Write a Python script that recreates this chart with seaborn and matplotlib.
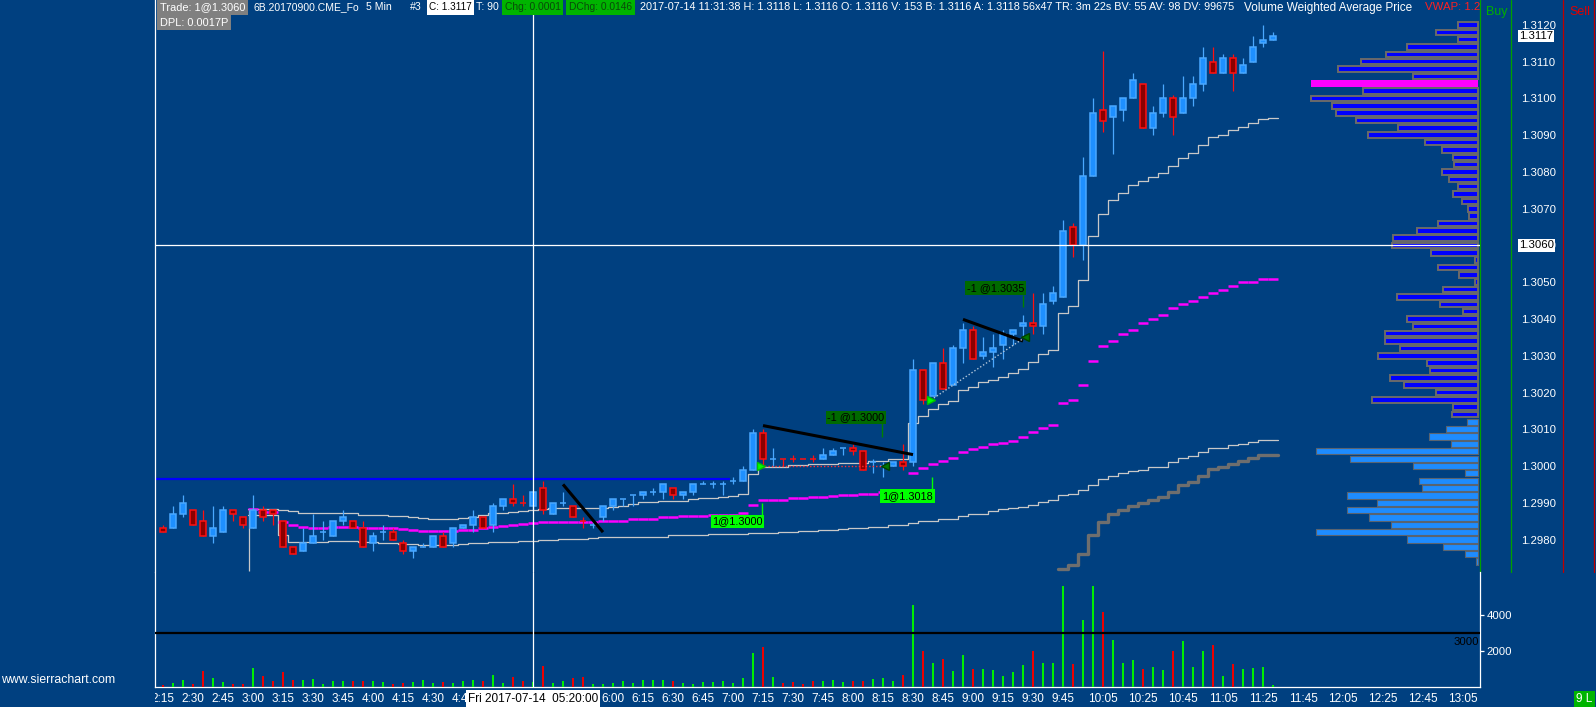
import numpy as np
import seaborn as sns
import matplotlib
matplotlib.use("Agg")
import matplotlib.pyplot as plt
from matplotlib.lines import Line2D
from matplotlib.transforms import Bbox

# ---------------- data ----------------
# 5 min bars, index 0 = 2:15
opens = [1.2983, 1.2983, 1.2987, 1.2988, 1.2985, 1.2981, 1.2982, 1.2988, 1.2986, 1.2983,
         1.2988, 1.2988, 1.2985, 1.2978, 1.2977, 1.2979, 1.2982, 1.2981, 1.2985, 1.2985,
         1.2983, 1.2979, 1.2982, 1.2982, 1.2979, 1.2977, 1.2978, 1.2978, 1.2981, 1.2979,
         1.2983, 1.2984, 1.2986, 1.2984, 1.2989, 1.2991, 1.2990, 1.2989, 1.2994, 1.2987,
         1.2990, 1.2989, 1.2985, 1.2984, 1.2986, 1.2989, 1.2991, 1.2992, 1.2992, 1.2993,
         1.2993, 1.2994, 1.2992, 1.2993, 1.2995, 1.2995, 1.2995, 1.2996, 1.2996, 1.2999,
         1.3009, 1.3002, 1.3002, 1.3002, 1.3002, 1.3002, 1.3002, 1.3003, 1.3005, 1.3005,
         1.3004, 1.3001, 1.3000, 1.3000, 1.3001, 1.3001, 1.3026, 1.3019, 1.3028, 1.3022,
         1.3032, 1.3037, 1.3030, 1.3031, 1.3033, 1.3036, 1.3038, 1.3039, 1.3038, 1.3045,
         1.3046, 1.3065, 1.3060, 1.3079, 1.3097, 1.3095, 1.3097, 1.3100, 1.3104, 1.3092,
         1.3096, 1.3100, 1.3096, 1.3100, 1.3104, 1.3110, 1.3107, 1.3111, 1.3107, 1.3110,
         1.3115, 1.3116]
highs = [1.2984, 1.2989, 1.2992, 1.2988, 1.2988, 1.2989, 1.2989, 1.2988, 1.2986, 1.2992,
         1.2989, 1.2988, 1.2985, 1.2978, 1.2983, 1.2987, 1.2985, 1.2985, 1.2988, 1.2985,
         1.2985, 1.2982, 1.2984, 1.2983, 1.2980, 1.2978, 1.2979, 1.2981, 1.2982, 1.2983,
         1.2984, 1.2988, 1.2986, 1.2990, 1.2991, 1.2995, 1.2992, 1.2993, 1.2996, 1.2990,
         1.2993, 1.2989, 1.2986, 1.2985, 1.2989, 1.2991, 1.2991, 1.2992, 1.2993, 1.2994,
         1.2995, 1.2994, 1.2993, 1.2995, 1.2996, 1.2996, 1.2996, 1.2997, 1.3000, 1.3010,
         1.3010, 1.3005, 1.3002, 1.3003, 1.3002, 1.3003, 1.3005, 1.3005, 1.3005, 1.3006,
         1.3004, 1.3002, 1.3001, 1.3001, 1.3006, 1.3029, 1.3026, 1.3028, 1.3032, 1.3033,
         1.3039, 1.3038, 1.3035, 1.3036, 1.3037, 1.3037, 1.3041, 1.3047, 1.3047, 1.3049,
         1.3067, 1.3066, 1.3084, 1.3100, 1.3113, 1.3098, 1.3100, 1.3107, 1.3104, 1.3098,
         1.3104, 1.3101, 1.3106, 1.3106, 1.3114, 1.3114, 1.3112, 1.3112, 1.3111, 1.3117,
         1.3120, 1.3118]
lows = [1.2982, 1.2983, 1.2986, 1.2984, 1.2981, 1.2979, 1.2982, 1.2985, 1.2983, 1.2983,
        1.2985, 1.2984, 1.2978, 1.2976, 1.2977, 1.2979, 1.2980, 1.2981, 1.2984, 1.2983,
        1.2978, 1.2977, 1.2980, 1.2980, 1.2976, 1.2975, 1.2978, 1.2978, 1.2978, 1.2978,
        1.2983, 1.2982, 1.2983, 1.2982, 1.2988, 1.2989, 1.2989, 1.2988, 1.2987, 1.2987,
        1.2989, 1.2986, 1.2983, 1.2983, 1.2985, 1.2988, 1.2989, 1.2989, 1.2991, 1.2992,
        1.2991, 1.2991, 1.2991, 1.2992, 1.2995, 1.2994, 1.2992, 1.2995, 1.2996, 1.2999,
        1.3000, 1.3000, 1.3000, 1.3001, 1.3002, 1.3001, 1.3002, 1.3003, 1.3003, 1.3003,
        1.2999, 1.2998, 1.2997, 1.3000, 1.2999, 1.3000, 1.3017, 1.3019, 1.3021, 1.3022,
        1.3028, 1.3029, 1.3029, 1.3027, 1.3029, 1.3033, 1.3035, 1.3036, 1.3036, 1.3044,
        1.3046, 1.3057, 1.3056, 1.3079, 1.3091, 1.3085, 1.3094, 1.3100, 1.3092, 1.3090,
        1.3095, 1.3090, 1.3096, 1.3098, 1.3102, 1.3107, 1.3107, 1.3102, 1.3107, 1.3110,
        1.3114, 1.3116]
closes = [1.2982, 1.2987, 1.2990, 1.2984, 1.2981, 1.2983, 1.2988, 1.2987, 1.2984, 1.2988,
          1.2986, 1.2987, 1.2978, 1.2976, 1.2979, 1.2981, 1.2982, 1.2985, 1.2986, 1.2983,
          1.2978, 1.2981, 1.2982, 1.2980, 1.2977, 1.2978, 1.2978, 1.2981, 1.2978, 1.2983,
          1.2984, 1.2986, 1.2983, 1.2989, 1.2991, 1.2990, 1.2990, 1.2993, 1.2988, 1.2990,
          1.2990, 1.2986, 1.2985, 1.2984, 1.2989, 1.2991, 1.2991, 1.2992, 1.2993, 1.2993,
          1.2995, 1.2992, 1.2993, 1.2995, 1.2995, 1.2995, 1.2995, 1.2996, 1.2999, 1.3009,
          1.3002, 1.3002, 1.3002, 1.3002, 1.3002, 1.3002, 1.3003, 1.3004, 1.3005, 1.3004,
          1.2999, 1.3001, 1.3000, 1.3001, 1.3000, 1.3026, 1.3018, 1.3028, 1.3021, 1.3032,
          1.3037, 1.3029, 1.3031, 1.3032, 1.3036, 1.3037, 1.3039, 1.3038, 1.3044, 1.3047,
          1.3064, 1.3060, 1.3079, 1.3096, 1.3094, 1.3098, 1.3100, 1.3105, 1.3092, 1.3096,
          1.3100, 1.3095, 1.3100, 1.3104, 1.3111, 1.3107, 1.3111, 1.3107, 1.3109, 1.3114,
          1.3116, 1.3117]
# u = up bar (blue candle / green volume), d = down bar
bar_dir = ("duudduuddu" "dddduuuuud" "duudduuudu" "uuduuddudu" "udduuuuuuu"
           "uduuuuuuuu" "dudddduuud" "duuudududu" "uduuuuuduu" "uduuduuudu"
           "uduuududuu" "uu")
volumes = [113, 245, 413, 188, 920, 525, 300, 188, 188, 1088,
           638, 356, 863, 413, 413, 469, 188, 356, 356, 356,
           356, 356, 300, 188, 245, 300, 413, 245, 300, 245,
           356, 413, 356, 694, 245, 582, 356, 300, 1201, 245,
           356, 525, 582, 188, 188, 245, 356, 245, 413, 413,
           413, 356, 245, 188, 300, 300, 356, 245, 525, 1933,
           2230, 582, 230, 300, 188, 357, 357, 413, 300, 357,
           357, 470, 526, 357, 695, 4583, 2010, 1371, 1559, 920,
           1822, 1033, 1033, 977, 639, 864, 1259, 2010, 1371, 1371,
           5654, 1315, 3738, 5654, 4189, 2611, 1371, 1540, 1033, 1146,
           977, 2010, 2555, 1146, 2010, 2329, 639, 1315, 1033, 1090,
           1146, 153]

# VWAP study, starts with the 3:00 bar
band_start = 9
vwap = [1.29882, 1.29876, 1.29876, 1.29848, 1.29839, 1.29834, 1.29831, 1.29831, 1.29834, 1.29834,
        1.29834, 1.29831, 1.29831, 1.29831, 1.29831, 1.29828, 1.29825, 1.29823, 1.29823, 1.29823,
        1.29823, 1.29825, 1.29825, 1.29830, 1.29834, 1.29837, 1.29840, 1.29842, 1.29846, 1.29848,
        1.29848, 1.29848, 1.29848, 1.29848, 1.29849, 1.29851, 1.29851, 1.29851, 1.29855, 1.29855,
        1.29857, 1.29860, 1.29860, 1.29863, 1.29863, 1.29864, 1.29866, 1.29866, 1.29868, 1.29872,
        1.29894, 1.29908, 1.29908, 1.29908, 1.29912, 1.29912, 1.29915, 1.29915, 1.29919, 1.29921,
        1.29921, 1.29924, 1.29924, 1.29928, 1.29928, 1.29932, 1.29980, 1.29995, 1.30006, 1.30014,
        1.30022, 1.30039, 1.30046, 1.30052, 1.30060, 1.30063, 1.30068, 1.30079, 1.30093, 1.30104,
        1.30112, 1.30172, 1.30180, 1.30220, 1.30286, 1.30326, 1.3034, 1.3036, 1.3037, 1.3039,
        1.3040, 1.3041, 1.3043, 1.3044, 1.3045, 1.3046, 1.3047, 1.3048, 1.3049, 1.3050,
        1.3050, 1.3051, 1.3051]
upper_band = [1.29884, 1.29882, 1.29882, 1.29880, 1.29878, 1.29873, 1.29873, 1.29871, 1.29871, 1.29871,
              1.29871, 1.29868, 1.29868, 1.29866, 1.29864, 1.29864, 1.29862, 1.29859, 1.29857, 1.29857,
              1.29857, 1.29859, 1.29862, 1.29868, 1.29871, 1.29873, 1.29876, 1.29878, 1.29880, 1.29884,
              1.29886, 1.29886, 1.29886, 1.29886, 1.29886, 1.29886, 1.29888, 1.29892, 1.29896, 1.29901,
              1.29901, 1.29904, 1.29906, 1.29906, 1.29909, 1.29912, 1.29912, 1.29915, 1.29918, 1.29925,
              1.29978, 1.29998, 1.29998, 1.29998, 1.30002, 1.30002, 1.30005, 1.30005, 1.30005, 1.30009,
              1.30009, 1.30009, 1.30014, 1.30014, 1.30018, 1.30018, 1.30118, 1.30136, 1.30154, 1.30168,
              1.30178, 1.30207, 1.30216, 1.30229, 1.30234, 1.30243, 1.30254, 1.30265, 1.30284, 1.30304,
              1.30317, 1.30417, 1.30435, 1.30505, 1.30625, 1.30686, 1.30724, 1.30743, 1.30765, 1.30776,
              1.30786, 1.30797, 1.30815, 1.30839, 1.30852, 1.30873, 1.30895, 1.30901, 1.30914, 1.30922,
              1.30933, 1.30944, 1.30946]
lower_band = [1.29868, 1.29866, 1.29866, 1.29811, 1.29793, 1.29793, 1.29793, 1.29793, 1.29796, 1.29796,
              1.29796, 1.29793, 1.29793, 1.29790, 1.29790, 1.29787, 1.29787, 1.29784, 1.29784, 1.29784,
              1.29784, 1.29787, 1.29790, 1.29790, 1.29793, 1.29793, 1.29793, 1.29796, 1.29796, 1.29798,
              1.29798, 1.29801, 1.29801, 1.29802, 1.29804, 1.29806, 1.29806, 1.29806, 1.29808, 1.29808,
              1.29808, 1.29808, 1.29811, 1.29811, 1.29811, 1.29811, 1.29814, 1.29814, 1.29814, 1.29814,
              1.29817, 1.29818, 1.29819, 1.29820, 1.29821, 1.29823, 1.29824, 1.29825, 1.29827, 1.29829,
              1.29831, 1.29831, 1.29834, 1.29834, 1.29840, 1.29840, 1.29846, 1.29851, 1.29851, 1.29857,
              1.29857, 1.29864, 1.29869, 1.29869, 1.29878, 1.29883, 1.29885, 1.29888, 1.29895, 1.29901,
              1.29907, 1.29920, 1.29924, 1.29934, 1.29947, 1.29964, 1.29974, 1.29980, 1.29986, 1.29990,
              1.29997, 1.29998, 1.30010, 1.30023, 1.30026, 1.30037, 1.30048, 1.30048, 1.30056, 1.30059,
              1.30065, 1.30070, 1.30072]
session_marker_low = 1.29714
# second lower band (thick grey), starts with the 9:45 bar
band2_start = 90
lower_band2 = [1.29721, 1.29730, 1.29760, 1.29811, 1.29848, 1.29869, 1.29880, 1.29891, 1.29899, 1.29908,
               1.29915, 1.29929, 1.29948, 1.29956, 1.29972, 1.29991, 1.29997, 1.30005, 1.30013, 1.30021,
               1.30029, 1.30031]

# volume profile, one row per 2 ticks from 1.3120 down
profile_top = 1.3120
profile_step = 0.0002
profile_vol = [200, 420, 200, 710, 920, 1170, 1400, 650, 1670, 1150,
               1670, 1460, 1420, 1220, 800, 1100, 530, 360, 250, 240,
               360, 290, 200, 250, 160, 100, 90, 400, 610, 850,
               860, 470, 30, 400, 190, 30, 350, 810, 380, 150,
               710, 650, 930, 930, 780, 1000, 510, 480, 880, 740,
               420, 1060, 250, 260, 110, 320, 490, 270, 1620, 1280,
               650, 130, 590, 560, 1310, 1010, 1310, 1090, 870, 1620,
               710, 350, 130, 20]
poc_price = 1.3104
profile_split = 1.3013

blue_level = 1.29965
blue_level_end = 56.7
cross_bar = 37
cross_price = 1.3060
last_price = 1.3117
vol_ref_level = 3000

# drawn trendlines ((bar, price), (bar, price))
trendlines = [((40.0, 1.29950), (44.0, 1.29820)),
              ((60.0, 1.30110), (75.0, 1.30031)),
              ((80.0, 1.30399), (86.0, 1.30340))]
# trades: bar, price, label, side
trades = [(60, 1.3000, "1@1.3000", "buy"),
          (72, 1.3000, "-1 @1.3000", "sell"),
          (77, 1.3018, "1@1.3018", "buy"),
          (86, 1.3035, "-1 @1.3035", "sell")]

# labels under the crosshair date box are hidden in the screenshot
tick_idx = [0, 3, 6, 9, 12, 15, 18, 21, 24, 27, 30, 33, 36, 39, 42, 45, 48, 51, 54, 57,
            60, 63, 66, 69, 72, 75, 78, 81, 84, 87, 90, 94, 98, 102, 106, 110, 114, 118, 122, 126, 130]
tick_labels = ["2:15", "2:30", "2:45", "3:00", "3:15", "3:30", "3:45", "4:00", "4:15", "4:30",
               "4:45", "", "", "", "", "6:00", "6:15", "6:30", "6:45", "7:00",
               "7:15", "7:30", "7:45", "8:00", "8:15", "8:30", "8:45", "9:00", "9:15", "9:30",
               "9:45", "10:05", "10:25", "10:45", "11:05", "11:25", "11:45", "12:05", "12:25", "12:45", "13:05"]

# ---------------- style ----------------
sns.set_style("dark")
BG = "#004080"
plt.rcParams["font.family"] = ["Liberation Sans", "DejaVu Sans"]
UP_FILL, UP_EDGE = "#1e90ff", "#4aa8ff"
DN_FILL, DN_EDGE = "#8b0000", "#ff1010"
GREEN_LINE, RED_LINE = "#00a000", "#c00000"

W, H = 1596, 707


def fx(x):
    return x / W


def fy(y):
    return 1 - y / H


fig = plt.figure(figsize=(W / 100, H / 100), dpi=100, facecolor=BG)
ax = fig.add_axes([fx(155), fy(572), fx(1480) - fx(155), fy(0) - fy(572)], facecolor=BG)
axv = fig.add_axes([fx(155), fy(687.3), fx(1480) - fx(155), fy(572) - fy(687.3)],
                   facecolor=BG, sharex=ax)

idx = np.arange(len(opens))
o, h, l, c = map(np.array, (opens, highs, lows, closes))
up = np.array([d == "u" for d in bar_dir])


# bands and vwap
def steps(start, vals):
    xs = np.arange(start, start + len(vals) + 1) - 0.5
    return xs, np.append(vals, vals[-1])


bx, by = steps(band_start, upper_band)
sns.lineplot(x=bx, y=by, ax=ax, color="#c8c8c8", lw=0.9, drawstyle="steps-post",
             legend=False, errorbar=None, zorder=2)
bx, by = steps(band_start, lower_band)
sns.lineplot(x=bx, y=by, ax=ax, color="#c8c8c8", lw=0.9, drawstyle="steps-post",
             legend=False, errorbar=None, zorder=2)
ax.vlines(band_start - 0.4, session_marker_low, upper_band[0], color="#c8c8c8", lw=0.9, zorder=2)
bx, by = steps(band2_start, lower_band2)
sns.lineplot(x=bx, y=by, ax=ax, color="#6e6e6e", lw=2.4, drawstyle="steps-post",
             legend=False, errorbar=None, zorder=2)
vx = np.arange(band_start, band_start + len(vwap))
ax.hlines(vwap, vx - 0.5, vx + 0.5, color="#ff00ff", lw=1.8, zorder=3)

ax.hlines(blue_level, -0.8, blue_level_end, color="#0000ff", lw=1.6, zorder=2)

# candles
ax.vlines(idx[up], l[up], h[up], color=UP_EDGE, lw=0.9, zorder=4)
ax.vlines(idx[~up], l[~up], h[~up], color=DN_EDGE, lw=0.9, zorder=4)
ax.bar(idx[up], np.abs(c - o)[up], bottom=np.minimum(o, c)[up], width=0.55,
       color=UP_FILL, edgecolor=UP_EDGE, lw=1.1, zorder=5)
ax.bar(idx[~up], np.abs(c - o)[~up], bottom=np.minimum(o, c)[~up], width=0.55,
       color=DN_FILL, edgecolor=DN_EDGE, lw=1.1, zorder=5)

# trendlines
for (x0, y0), (x1, y1) in trendlines:
    ax.plot([x0, x1], [y0, y1], color="black", lw=2.2, zorder=6, solid_capstyle="butt")

# trades: connectors, markers, labels
label_layout = [(57.45, 1.29849, 59.93, 1.29899, 1.29867),
                (69.28, 1.30132, 71.93, 1.30116, 1.30079),
                (74.45, 1.29919, 76.93, 1.29971, 1.29935),
                (83.28, 1.30484, 85.97, 1.30466, 1.30432)]
for k in range(0, len(trades), 2):
    (b0, p0, _, _), (b1, p1, _, _) = trades[k], trades[k + 1]
    col = "#ff3030" if p1 <= p0 else "#b0c4d8"
    ax.plot([b0 - 0.2, b1 + 0.2], [p0, p1], ls=(0, (1, 1.5)), color=col, lw=1.0, zorder=6)
for (b, p, txt, side), (tx, ty, lx, ly0, ly1) in zip(trades, label_layout):
    if side == "buy":
        ax.plot(b - 0.2, p, marker=">", ms=6, color="#00ff00", mec="#00c000", zorder=7)
        bg, lc = "#00ff00", "#00ff00"
    else:
        ax.plot(b + 0.2, p, marker="<", ms=6, color="#007800", mec="#004000", zorder=7)
        bg, lc = "#006a00", "#008000"
    ax.vlines(lx, ly0, ly1, color=lc, lw=1.0, zorder=7)
    ax.text(tx, ty, txt, ha="center", va="center", fontsize=7.8, color="black", zorder=8,
            bbox=dict(boxstyle="square,pad=0.16", fc=bg, ec="none"))

# volume profile
prof_price = profile_top - profile_step * np.arange(len(profile_vol))
prof_w = np.array(profile_vol) / 100.0
right_edge = 131.5
for p, w in zip(prof_price, prof_w):
    if abs(p - poc_price) < 1e-6:
        ax.barh(p, w, left=right_edge - w, height=0.00018, color="#ff00ff", lw=0, zorder=3)
    elif p > profile_split:
        ax.barh(p, w, left=right_edge - w, height=0.00015, color="#0000ff",
                edgecolor="#6a6a6a", lw=1.4, zorder=3)
    else:
        ax.barh(p, w, left=right_edge - w, height=0.00017, color="#1e8cff",
                edgecolor="#5a6470", lw=0.8, zorder=3)

# crosshair
ax.axhline(cross_price, color="white", lw=0.9, zorder=6)
ax.axvline(cross_bar, color="white", lw=0.9, zorder=6)
axv.axvline(cross_bar, color="white", lw=0.9, zorder=6)

# volume bars
vcol = np.where(up, "#00ee00", "#ee0000")
axv.bar(idx, volumes, width=0.22, color=vcol, lw=0, zorder=3)
axv.axhline(vol_ref_level, color="black", lw=1.6, zorder=4)
axv.annotate(str(vol_ref_level), xy=(1.0, vol_ref_level), xycoords=axv.get_yaxis_transform(),
             xytext=(-1, -2.5), textcoords="offset points",
             ha="right", va="top", fontsize=8.2, color="black")

# axes styling
ax.set_xlim(-0.8, 131.7)
ax.set_ylim(1.297116, 1.312680)
axv.set_ylim(0, 6410)
for a in (ax, axv):
    a.set_xlabel("")
    a.set_ylabel("")
    a.grid(False)
    for s in a.spines.values():
        s.set_visible(False)
    a.spines["left"].set_visible(True)
    a.spines["left"].set_color("white")
    a.spines["left"].set_linewidth(0.9)
    a.spines["right"].set_visible(True)
ax.spines["right"].set_color(GREEN_LINE)
ax.spines["right"].set_linewidth(0.9)
axv.spines["right"].set_color("white")
axv.spines["right"].set_linewidth(0.9)
axv.spines["bottom"].set_visible(True)
axv.spines["bottom"].set_color("white")
axv.spines["bottom"].set_linewidth(0.9)

ax.tick_params(axis="x", bottom=False, labelbottom=False)
ax.yaxis.tick_right()
yt = np.round(np.arange(1.2980, 1.31205, 0.001), 4)
ax.set_yticks(yt)
ax.set_yticklabels([f"{v:.4f}" for v in yt])
ax.tick_params(axis="y", length=0, pad=29.5, colors="white", labelsize=8.2)

axv.yaxis.tick_right()
axv.set_yticks([2000, 4000])
axv.set_yticklabels(["2000", "4000"])
axv.tick_params(axis="y", length=3, width=0.9, pad=1.5, colors="white", labelsize=8.2)
axv.set_xticks(tick_idx)
axv.set_xticklabels(tick_labels)
axv.tick_params(axis="x", length=2.5, width=0.9, pad=1.5, colors="white", labelsize=8.5)
# the first time label is cut by the chart's left border
left_clip = Bbox.from_extents(155, 0, W, H)
for lab in axv.get_xticklabels():
    lab.set_clip_box(left_clip)
    lab.set_clip_on(True)

# price boxes on the scale
for p in (last_price, cross_price):
    ax.text(1.0294, p, f"{p:.4f}", transform=ax.get_yaxis_transform(), ha="left", va="center",
            fontsize=8.2, color="black", zorder=9, clip_on=False,
            bbox=dict(boxstyle="square,pad=0.12", fc="white", ec="none"))

# buy / sell columns
for x, col in ((1511, GREEN_LINE), (1563, RED_LINE), (1594, RED_LINE)):
    fig.add_artist(Line2D([fx(x), fx(x)], [fy(0), fy(572)], color=col, lw=0.9))
fig.text(fx(1486), fy(12), "Buy", color="#00b000", fontsize=9, va="center", ha="left")
fig.text(fx(1569), fy(12), "Sell", color="#e00000", fontsize=9, va="center", ha="left")


# header
def htext(x, y, s, fs, color="white", bg=None):
    kw = {}
    if bg:
        kw["bbox"] = dict(boxstyle="square,pad=0.25", fc=bg, ec="none")
    fig.text(fx(x), fy(y), s, color=color, fontsize=fs, ha="left", va="center", **kw)


htext(160, 7.5, "Trade: 1@1.3060", 7.9, bg="#808080")
htext(254, 7.5, "6B.20170900.CME_Fo", 7.5)
htext(366, 7.5, "5 Min", 7.6)
htext(410, 7.5, "#3", 7.6)
htext(429, 7.5, "C: 1.3117", 7.2, color="black", bg="white")
htext(476, 7.5, "T: 90", 7.6)
htext(505, 7.5, "Chg: 0.0001", 7.4, color="#0a4a0a", bg="#00b400")
htext(569, 7.5, "DChg: 0.0146", 7.4, color="#0a4a0a", bg="#00b400")
htext(640, 7.5, "2017-07-14 11:31:38 H: 1.3118 L: 1.3116 O: 1.3116 V: 153 B: 1.3116 "
                "A: 1.3118 56x47 TR: 3m 22s BV: 55 AV: 98 DV: 99675", 7.8)
htext(1244, 7.5, "Volume Weighted Average Price", 8.5)
htext(1425, 7.5, "VWAP: 1.2", 8.2, color="#ff2020")
htext(160, 22.5, "DPL: 0.0017P", 7.9, bg="#808080")

# bottom texts
fig.text(fx(533), fy(698.5), "Fri 2017-07-14  05:20:00", ha="center", va="center",
         fontsize=8.5, color="black",
         bbox=dict(boxstyle="square,pad=0.2", fc="white", ec="none"))
fig.text(fx(1), fy(680), "www.sierrachart.com", ha="left", va="center", fontsize=8.8, color="white")
fig.text(fx(1576), fy(699), "9 L", ha="left", va="center", fontsize=8.5, color="white",
         bbox=dict(boxstyle="square,pad=0.2", fc="#00b400", ec="none"))

fig.savefig("out.png", dpi=100, facecolor=BG)
